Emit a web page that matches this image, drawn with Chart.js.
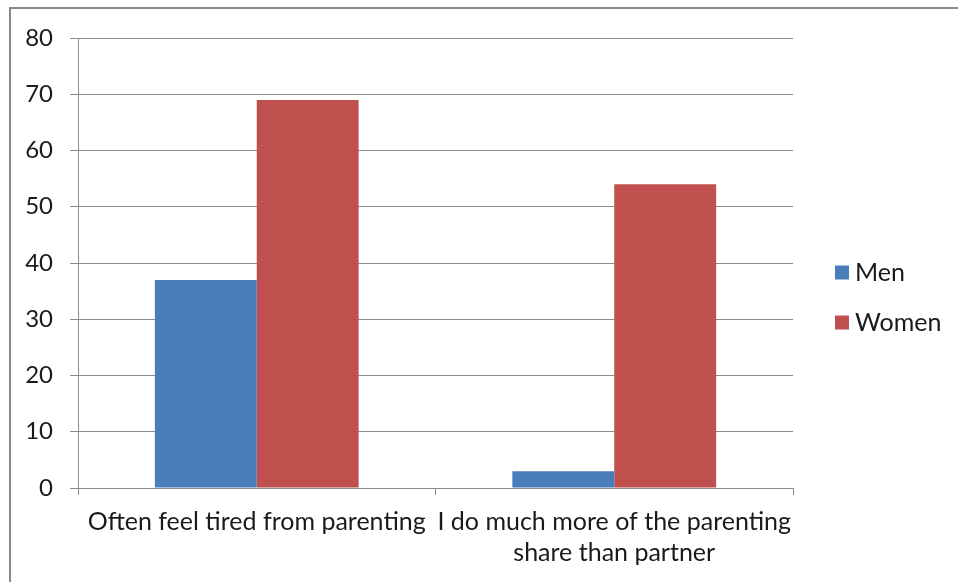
<!DOCTYPE html>
<html>
<head>
<meta charset="utf-8">
<script src="https://cdn.jsdelivr.net/npm/chart.js@4"></script>
<style>
  html, body { margin: 0; padding: 0; background: #fff; }
  #frame {
    position: absolute; left: 9px; top: 7px;
    width: 949px; height: 575px;
    border-top: 2px solid #8a8a8a; border-left: 2px solid #8a8a8a;
  }
  #chart { display: block; }
</style>
</head>
<body>
<div id="frame"><canvas id="chart" width="947" height="573"></canvas></div>
<script>
'use strict';

var categories = [
  'Often feel tired from parenting',
  ['I do much more of the parenting', 'share than partner']
];
var seriesNames = ['Men', 'Women'];
var menValues = [37, 3];
var womenValues = [69, 54];
var yTicks = [0, 10, 20, 30, 40, 50, 60, 70, 80];

var colors = ['#4a7ebb', '#c0504d'];
var fontFamily = 'Lato, "Open Sans", sans-serif';
var textColor = '#1a1a1a';
var gridColor = '#8c8c8c';

// legend drawn at the right, centred on the canvas height
var sideLegend = {
  id: 'sideLegend',
  afterDraw: function(chart) {
    var c = chart.ctx;
    var area = chart.chartArea;
    var sets = chart.data.datasets;
    var gap = 50;
    var y0 = chart.height / 2 - gap * (sets.length - 1) / 2;
    c.save();
    c.font = '25px ' + fontFamily;
    c.textBaseline = 'middle';
    for (var i = 0; i < sets.length; i++) {
      var y = y0 + i * gap + 2;
      var x = area.right + 42;
      c.fillStyle = sets[i].backgroundColor;
      c.fillRect(x, y - 7, 14, 14);
      c.fillStyle = textColor;
      c.fillText(sets[i].label, x + 20, y);
    }
    c.restore();
  }
};

var ctx = document.getElementById('chart').getContext('2d');

var chartData = {
  type: 'bar',
  data: {
    labels: categories,
    datasets: [{
      label: seriesNames[0],
      data: menValues,
      backgroundColor: colors[0]
    }, {
      label: seriesNames[1],
      data: womenValues,
      backgroundColor: colors[1]
    }]
  },
  options: {
    responsive: false,
    animation: false,
    layout: { padding: { top: 29, right: 165, left: 0, bottom: 0 } },
    datasets: {
      bar: { categoryPercentage: 0.57, barPercentage: 1.0 }
    },
    plugins: {
      legend: { display: false },
      tooltip: { enabled: false }
    },
    scales: {
      x: {
        grid: {
          offset: true,
          drawOnChartArea: false,
          color: gridColor,
          tickLength: 7
        },
        border: { color: gridColor },
        ticks: {
          color: textColor,
          font: { family: fontFamily, size: 25, lineHeight: 1.25 },
          maxRotation: 0,
          autoSkip: false,
          padding: 11
        },
        afterFit: function(scale) { scale.height = 94; }
      },
      y: {
        min: 0,
        max: 80,
        afterBuildTicks: function(scale) {
          scale.ticks = yTicks.map(function(v) { return { value: v }; });
        },
        grid: { color: gridColor, tickLength: 8 },
        border: { color: gridColor },
        ticks: {
          color: textColor,
          font: { family: fontFamily, size: 24 },
          padding: 17
        },
        afterFit: function(scale) {
          scale.width = 67;
          // the top label has room above the plot, so no extra margin
          scale.paddingTop = 0;
          scale.paddingBottom = 0;
        }
      }
    }
  },
  plugins: [sideLegend]
};

var charts = new Chart(ctx, chartData);
</script>
</body>
</html>
